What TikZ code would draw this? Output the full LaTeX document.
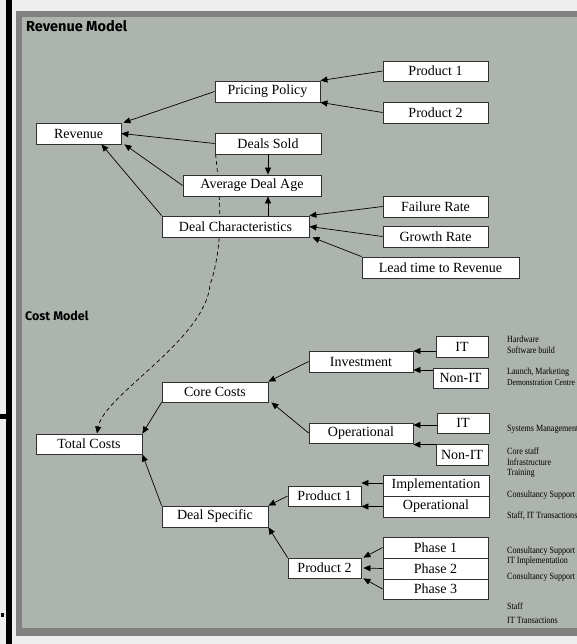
\documentclass[tikz,border=0pt]{standalone}
\usepackage{fontspec}
\setmainfont{Liberation Serif}
\newfontfamily\titlefont{Fira Sans}
\newfontfamily\notefont[FakeStretch=0.85]{Liberation Serif}
\usetikzlibrary{arrows.meta}
\definecolor{bgc}{HTML}{EEEEEE}
\definecolor{framec}{HTML}{808080}
\definecolor{fillc}{HTML}{ADB3AD}
\definecolor{boxline}{HTML}{303030}
\begin{document}
\begin{tikzpicture}[x=1pt,y=-1pt,
  box/.style={draw=boxline, line width=0.8pt, fill=white, inner sep=0pt, font=\fontsize{14}{15}\selectfont},
  arr/.style={-{Triangle[length=7pt,width=6pt]}, line width=0.7pt, black},
  dasharr/.style={-{Triangle[length=7pt,width=6pt]}, line width=0.7pt, black, dash pattern=on 4pt off 3pt},
  note/.style={anchor=west, inner sep=0pt, font=\notefont\fontsize{9.5}{10}\selectfont},
  ttl/.style={anchor=west, inner sep=0pt, font=\titlefont\bfseries\fontsize{14.5}{15}\selectfont}]
\useasboundingbox (0,0) rectangle (577,644);
% background and frame
\fill[bgc] (0,0) rectangle (577,644);
\fill[black] (6,0) rectangle (11.5,644);
\fill[black] (0,414) rectangle (10,419);
\fill[black] (1,613) rectangle (4,617);
\fill[framec] (16,11) rectangle (577,636);
\fill[fillc] (22,17) rectangle (577,628);

% titles
\node[ttl] (t1) at (26,26.5) {Revenue Model};
\node[ttl, font=\titlefont\bfseries\fontsize{12.5}{13}\selectfont] (t2) at (25,315.5) {Cost Model};

% dashed link (drawn beneath the boxes)
\coordinate (dsw) at (215.5,154);
\draw[dasharr] (dsw) .. controls (222,210) and (222,250) .. (210,285)
  .. controls (205,340) and (104,395) .. (97,433.5);

% revenue model
\node[box, minimum width=85pt, minimum height=21pt] (rev) at (78.5,133.5) {Revenue};
\node[box, minimum width=105pt, minimum height=21pt] (pp) at (267.5,91.5) {Pricing Policy};
\node[box, minimum width=106pt, minimum height=21pt] (ds) at (268,143.5) {Deals Sold};
\node[box, minimum width=138pt, minimum height=21pt] (ada) at (252,185.5) {Average Deal Age};
\node[box, minimum width=147pt, minimum height=21pt] (dc) at (235.5,226.5) {Deal Characteristics};
\node[box, minimum width=105pt, minimum height=20pt] (rp1) at (435.5,71) {Product 1};
\node[box, minimum width=105pt, minimum height=21pt] (rp2) at (435.5,112.5) {Product 2};
\node[box, minimum width=105pt, minimum height=21pt] (fr) at (435.5,206.5) {Failure Rate};
\node[box, minimum width=105pt, minimum height=21pt] (gr) at (435.5,236.5) {Growth Rate};
\node[box, minimum width=157pt, minimum height=21pt] (lt) at (440.5,267.5) {Lead time to Revenue};

\draw[arr] (rp1.west) -- (pp.north east);
\draw[arr] (rp2.west) -- (pp.south east);
\draw[arr] (pp.west) -- ([xshift=2pt]rev.north east);
\draw[arr] (ds.west) -- (rev.east);
\draw[arr] (ada.west) -- ([xshift=3pt]rev.south east);
\draw[arr] (dc.north west) -- ([xshift=23pt]rev.south);
\draw[arr] (fr.west) -- (dc.north east);
\draw[arr] (gr.west) -- (dc.east);
\draw[arr] (lt.north west) -- ([xshift=3pt]dc.south east);
\draw[arr] (ds.south) -- (ds.south |- ada.north);
\draw[arr] (ds.south |- dc.north) -- (ds.south |- ada.south);

% cost model
\node[box, minimum width=106pt, minimum height=20pt] (tc) at (89,444) {Total Costs};
\node[box, minimum width=106pt, minimum height=20pt] (cc) at (215,392) {Core Costs};
\node[box, minimum width=106pt, minimum height=21pt] (dsp) at (215,516.5) {Deal Specific};
\node[box, minimum width=104pt, minimum height=21pt] (inv) at (361,361.5) {Investment};
\node[box, minimum width=104pt, minimum height=20pt] (op) at (361,433) {Operational};
\node[box, minimum width=52pt, minimum height=21pt] (it1) at (462,346.5) {IT};
\node[box, minimum width=55pt, minimum height=20pt] (ni1) at (460.5,378) {Non-IT};
\node[box, minimum width=52pt, minimum height=20pt] (it2) at (463,423) {IT};
\node[box, minimum width=52pt, minimum height=21pt] (ni2) at (462,454.5) {Non-IT};
\node[box, minimum width=73pt, minimum height=20pt] (cp1) at (324.5,496) {Product 1};
\node[box, minimum width=106pt, minimum height=21pt] (impl) at (436,485.5) {Implementation};
\node[box, minimum width=106pt, minimum height=21pt] (cop) at (436,506.5) {Operational};
\node[box, minimum width=73pt, minimum height=20pt] (cp2) at (324.5,568) {Product 2};
\node[box, minimum width=105pt, minimum height=21pt] (ph1) at (435.5,547.5) {Phase 1};
\node[box, minimum width=105pt, minimum height=21pt] (ph2) at (435.5,568.5) {Phase 2};
\node[box, minimum width=105pt, minimum height=20pt] (ph3) at (435.5,589) {Phase 3};

\draw[arr] ([yshift=-4.5pt]it1.west) -- ([yshift=-4.5pt]it1.west -| inv.east);
\draw[arr] ([yshift=8pt]ni1.west) -- ([yshift=8pt]ni1.west -| inv.east);
\draw[arr] ([yshift=-2pt]it2.west) -- ([yshift=-2pt]it2.west -| op.east);
\draw[arr] ([yshift=-1pt]ni2.north west) -- ([yshift=-1pt]ni2.north west -| op.east);
\draw[arr] (inv.west) -- (cc.north east);
\draw[arr] (op.west) -- ([xshift=3pt]cc.south east);
\draw[arr] (cc.south west) -- (tc.north east);
\draw[arr] (dsp.north west) -- (tc.south east);
\draw[arr] (cp1.west) -- (dsp.north east);
\draw[arr] (cp2.north west) -- (dsp.south east);
\draw[arr] ([yshift=2.5pt]impl.west) -- ([yshift=2.5pt]impl.west -| cp1.east);
\draw[arr] (cop.west) -- (cop.west -| cp1.east);
\draw[arr] (ph1.west) -- ([xshift=2pt]cp2.north east);
\draw[arr] (ph2.west) -- ([xshift=2pt]cp2.east);
\draw[arr] (ph3.west) -- ([xshift=2pt]cp2.south east);

% annotations
\node[note] (n1) at (507,339) {Hardware};
\node[note] (n2) at (507,350) {Software build};
\node[note] (n3) at (507,372) {Launch, Marketing};
\node[note, font=\notefont\fontsize{9}{10}\selectfont] (n4) at (507,383) {Demonstration Centre};
\node[note] (n5) at (507,429) {Systems Management};
\node[note] (n6) at (507,451) {Core staff};
\node[note] (n7) at (507,462) {Infrastructure};
\node[note] (n8) at (507,473) {Training};
\node[note] (n9) at (507,495) {Consultancy Support};
\node[note] (n10) at (507,516) {Staff, IT Transactions};
\node[note] (n11) at (507,551) {Consultancy Support};
\node[note] (n12) at (507,561) {IT Implementation};
\node[note] (n13) at (507,577) {Consultancy Support};
\node[note] (n14) at (507,606) {Staff};
\node[note] (n15) at (507,620) {IT Transactions};
\end{tikzpicture}
\end{document}
